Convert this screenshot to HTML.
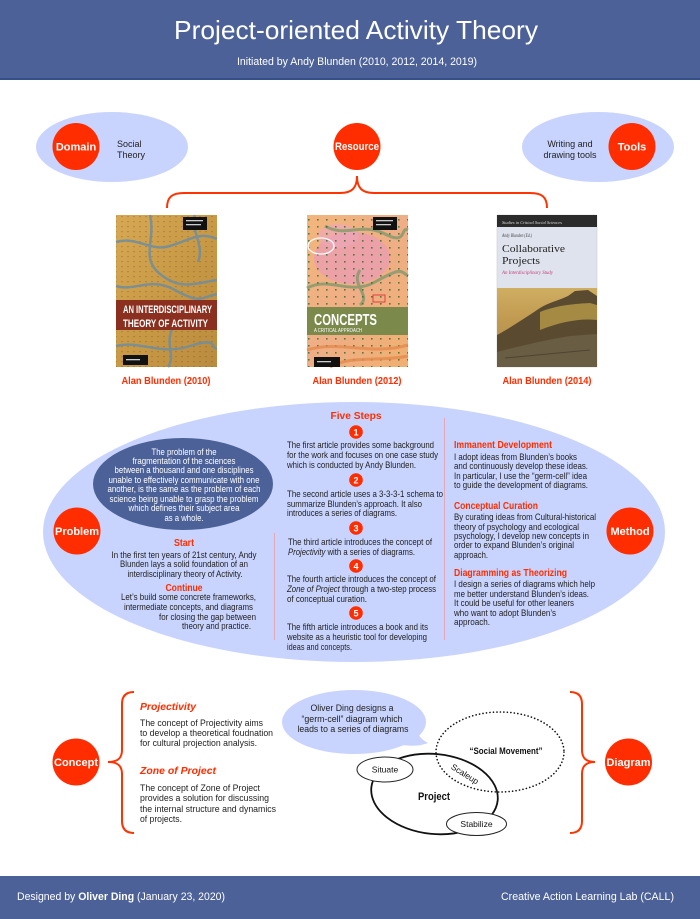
<!DOCTYPE html>
<html><head><meta charset="utf-8"><style>
html,body{margin:0;padding:0;background:#fff;width:700px;height:919px;overflow:hidden}
svg{display:block}
text{font-family:"Liberation Sans",Arial,sans-serif}
.b{fill:#1e1e1e;font-size:9px}
.w{fill:#fff;font-size:9px}
.rh{fill:#ff2d00;font-size:10.5px;font-weight:bold}
.cl{fill:#fff;font-size:11px;font-weight:bold}
</style></head><body>
<svg width="700" height="919" viewBox="0 0 700 919" xmlns="http://www.w3.org/2000/svg">
<defs>
<linearGradient id="g1" x1="0" y1="0" x2="1" y2="1"><stop offset="0" stop-color="#d7a955"/><stop offset=".5" stop-color="#c99a45"/><stop offset="1" stop-color="#b98b3e"/></linearGradient>
<linearGradient id="g2" x1="0" y1="0" x2="1" y2="1"><stop offset="0" stop-color="#f2b67c"/><stop offset=".5" stop-color="#efae86"/><stop offset="1" stop-color="#f0b070"/></linearGradient>
<linearGradient id="g3" x1="0" y1="0" x2="0" y2="1"><stop offset="0" stop-color="#cfae62"/><stop offset=".4" stop-color="#c09a50"/><stop offset="1" stop-color="#a88a50"/></linearGradient>
<pattern id="t1" width="6" height="5" patternUnits="userSpaceOnUse"><rect x="1" y="1" width="2" height="1.2" fill="#7a4e22" opacity=".3"/></pattern>
<pattern id="t2" width="9" height="7" patternUnits="userSpaceOnUse"><rect x="2" y="2" width="1.6" height="1.6" fill="#2f6a2a" opacity=".8"/></pattern>
</defs>

<!-- header -->
<rect x="0" y="0" width="700" height="80" fill="#4b6198"/>
<rect x="0" y="78" width="700" height="2" fill="#34508c"/>
<text x="356" y="39" text-anchor="middle" fill="#fff" font-size="26" textLength="364" lengthAdjust="spacingAndGlyphs">Project-oriented Activity Theory</text>
<text x="357" y="65" text-anchor="middle" fill="#fff" font-size="11" textLength="240" lengthAdjust="spacingAndGlyphs">Initiated by Andy Blunden (2010, 2012, 2014, 2019)</text>

<!-- domain / resource / tools -->
<ellipse cx="112" cy="147" rx="76" ry="35" fill="#c8d4fd"/>
<circle cx="76" cy="146.5" r="23.5" fill="#ff2d00"/>
<text x="76" y="150.5" text-anchor="middle" class="cl">Domain</text>
<text x="117" y="147" class="b" font-size="9.5">Social</text>
<text x="117" y="158" class="b" font-size="9.5">Theory</text>

<circle cx="357" cy="146.5" r="23.5" fill="#ff2d00"/>
<text x="357" y="150" text-anchor="middle" class="cl" font-size="10" textLength="44" lengthAdjust="spacingAndGlyphs">Resource</text>

<ellipse cx="598" cy="147" rx="76" ry="35" fill="#c8d4fd"/>
<circle cx="632" cy="146.5" r="23.5" fill="#ff2d00"/>
<text x="632" y="150.5" text-anchor="middle" class="cl">Tools</text>
<text x="570" y="147" text-anchor="middle" class="b" font-size="9.5">Writing and</text>
<text x="570" y="158" text-anchor="middle" class="b" font-size="9.5">drawing tools</text>

<path d="M167,208 C167,197 172,193 184,193 L340,193 C352,193 357,188 357,176 C357,188 362,193 374,193 L530,193 C542,193 547,197 547,208" fill="none" stroke="#ff3300" stroke-width="2"/>

<!-- book 1 -->
<rect x="116" y="215" width="101" height="152" fill="url(#g1)"/>
<rect x="116" y="215" width="101" height="152" fill="url(#t1)"/>
<g fill="none" stroke="#6f8ea0" stroke-width="2.5" opacity=".85">
<path d="M116,242 C138,236 150,252 170,246 S200,231 217,239"/>
<path d="M150,215 C156,240 140,258 160,274 S192,284 217,280"/>
<path d="M116,286 C135,292 150,276 175,290 S200,298 217,294"/>
<path d="M116,346 C140,340 160,356 190,346 S210,350 217,348"/>
<path d="M172,330 C165,345 176,355 168,367"/>
<path d="M195,215 C190,230 205,245 198,262"/>
</g>
<rect x="116" y="300" width="101" height="30" fill="#8b2f1f"/>
<text x="123" y="313" fill="#fff" font-size="11" font-weight="bold" textLength="89" lengthAdjust="spacingAndGlyphs">AN INTERDISCIPLINARY</text>
<text x="123" y="327" fill="#fff" font-size="11" font-weight="bold" textLength="85" lengthAdjust="spacingAndGlyphs">THEORY OF ACTIVITY</text>
<rect x="183" y="217" width="24" height="13" fill="#111"/>
<rect x="186" y="220" width="17" height="1.3" fill="#ccc"/><rect x="186" y="224" width="15" height="1.3" fill="#ccc"/>
<rect x="123" y="355" width="25" height="10" fill="#111"/>
<rect x="126" y="359" width="14" height="1.3" fill="#ccc"/>

<!-- book 2 -->
<rect x="307" y="215" width="101" height="152" fill="url(#g2)"/>
<ellipse cx="352" cy="258" rx="38" ry="26" fill="#eb9fae" opacity=".85"/>
<ellipse cx="338" cy="236" rx="20" ry="12" fill="#f0a6b8" opacity=".7"/>
<g fill="none" stroke="#8d9b70" stroke-width="3" opacity=".9">
<path d="M307,288 C330,276 350,296 375,282 S400,270 408,276"/>
<path d="M325,226 C345,238 362,222 385,234 S400,226 408,230"/>
<path d="M360,270 C350,285 372,295 360,305"/>
</g>
<rect x="307" y="215" width="101" height="152" fill="url(#t2)"/>
<ellipse cx="321" cy="246" rx="13" ry="8" fill="none" stroke="#fff" stroke-width="1.3"/>
<rect x="373" y="295" width="12" height="7" fill="none" stroke="#e04040" stroke-width="1"/>
<g fill="none" stroke="#e58a4e" stroke-width="3" opacity=".8">
<path d="M307,350 C340,340 370,356 408,345"/>
<path d="M330,367 C350,355 380,362 408,356"/>
</g>
<rect x="307" y="307" width="101" height="28" fill="#7b8a4b"/>
<text x="314" y="325" fill="#fff" font-size="16" font-weight="bold" textLength="63" lengthAdjust="spacingAndGlyphs">CONCEPTS</text>
<text x="314" y="332" fill="#fff" font-size="5" textLength="48" lengthAdjust="spacingAndGlyphs">A CRITICAL APPROACH</text>
<rect x="373" y="217" width="24" height="13" fill="#111"/>
<rect x="376" y="220" width="17" height="1.3" fill="#ccc"/><rect x="376" y="224" width="15" height="1.3" fill="#ccc"/>
<rect x="314" y="357" width="26" height="10" fill="#111"/>
<rect x="317" y="361" width="14" height="1.3" fill="#ccc"/>

<!-- book 3 -->
<rect x="497" y="215" width="100" height="152" fill="#dfe3ee" stroke="#cfcfcf" stroke-width=".6"/>
<rect x="497" y="215" width="100" height="12" fill="#2b2b2b"/>
<text x="502" y="224" fill="#ddd" font-size="4" font-style="italic" style="font-family:'Liberation Serif',serif" textLength="60" lengthAdjust="spacingAndGlyphs">Studies in Critical Social Sciences</text>
<text x="502" y="237" fill="#444" font-size="5" font-style="italic" style="font-family:'Liberation Serif',serif" textLength="30" lengthAdjust="spacingAndGlyphs">Andy Blunden (Ed.)</text>
<text x="502" y="252" fill="#222" font-size="11" style="font-family:'Liberation Serif',serif" textLength="63" lengthAdjust="spacingAndGlyphs">Collaborative</text>
<text x="502" y="264" fill="#222" font-size="11" style="font-family:'Liberation Serif',serif" textLength="38" lengthAdjust="spacingAndGlyphs">Projects</text>
<text x="502" y="274" fill="#c0407a" font-size="5" font-style="italic" style="font-family:'Liberation Serif',serif" textLength="51" lengthAdjust="spacingAndGlyphs">An Interdisciplinary Study</text>
<rect x="497" y="288" width="100" height="79" fill="url(#g3)"/>
<path d="M497,335 C510,328 525,318 540,308 C550,302 560,300 568,296 L575,291 L588,290 L597,296 L597,367 L497,367 Z" fill="#5a4a30"/>
<path d="M540,312 C555,306 570,304 590,303 L597,305 L597,320 C580,318 560,322 540,330 Z" fill="#b89a48" opacity=".8"/>
<path d="M497,352 C520,346 545,340 570,336 L597,334 L597,367 L497,367 Z" fill="#6c6048" opacity=".85"/>
<path d="M505,358 L590,350" stroke="#3e3424" stroke-width="1" opacity=".6"/>

<text x="166" y="384" text-anchor="middle" class="rh" font-size="10" textLength="89" lengthAdjust="spacingAndGlyphs">Alan Blunden (2010)</text>
<text x="357" y="384" text-anchor="middle" class="rh" font-size="10" textLength="89" lengthAdjust="spacingAndGlyphs">Alan Blunden (2012)</text>
<text x="547" y="384" text-anchor="middle" class="rh" font-size="10" textLength="89" lengthAdjust="spacingAndGlyphs">Alan Blunden (2014)</text>

<!-- big ellipse -->
<ellipse cx="354" cy="532" rx="311" ry="130" fill="#c8d4fd"/>
<ellipse cx="183" cy="484" rx="90" ry="46" fill="#4b6198"/>
<g class="w" text-anchor="middle">
<text x="184" y="455" class="w" textLength="65" lengthAdjust="spacingAndGlyphs">The problem of the</text>
<text x="184" y="464" class="w" textLength="103" lengthAdjust="spacingAndGlyphs">fragmentation of the sciences</text>
<text x="184" y="473" class="w" textLength="139" lengthAdjust="spacingAndGlyphs">between a thousand and one disciplines</text>
<text x="184" y="483" class="w" textLength="151" lengthAdjust="spacingAndGlyphs">unable to effectively communicate with one</text>
<text x="184" y="492" class="w" textLength="153" lengthAdjust="spacingAndGlyphs">another, is the same as the problem of each</text>
<text x="184" y="502" class="w" textLength="149" lengthAdjust="spacingAndGlyphs">science being unable to grasp the problem</text>
<text x="184" y="511" class="w" textLength="111" lengthAdjust="spacingAndGlyphs">which defines their subject area</text>
<text x="184" y="521" class="w" textLength="39" lengthAdjust="spacingAndGlyphs">as a whole.</text>
</g>

<circle cx="77" cy="531" r="23.5" fill="#ff2d00"/>
<text x="77" y="535" text-anchor="middle" class="cl">Problem</text>

<g text-anchor="middle">
<text x="184" y="546" class="rh" textLength="20" lengthAdjust="spacingAndGlyphs">Start</text>
<text x="184" y="558" class="b" textLength="145" lengthAdjust="spacingAndGlyphs">In the first ten years of 21st century, Andy</text>
<text x="184" y="567" class="b" textLength="128" lengthAdjust="spacingAndGlyphs">Blunden lays a solid foundation of an</text>
<text x="185" y="577" class="b" textLength="115" lengthAdjust="spacingAndGlyphs">interdisciplinary theory of Activity.</text>
<text x="184" y="591" class="rh" textLength="37" lengthAdjust="spacingAndGlyphs">Continue</text>
</g>
<g text-anchor="end">
<text x="256" y="600" class="b" textLength="135" lengthAdjust="spacingAndGlyphs">Let’s build some concrete frameworks,</text>
<text x="253" y="610" class="b" textLength="129" lengthAdjust="spacingAndGlyphs">intermediate concepts, and diagrams</text>
<text x="256" y="620" class="b" textLength="97" lengthAdjust="spacingAndGlyphs">for closing the gap between</text>
<text x="251" y="629" class="b" textLength="69" lengthAdjust="spacingAndGlyphs">theory and practice.</text>
</g>

<line x1="274.5" y1="533" x2="274.5" y2="640" stroke="#e3a8b8" stroke-width="1"/>
<line x1="444.5" y1="418" x2="444.5" y2="640" stroke="#e3a8b8" stroke-width="1"/>

<!-- five steps -->
<text x="356" y="419" text-anchor="middle" class="rh" font-size="11.5" textLength="51" lengthAdjust="spacingAndGlyphs">Five Steps</text>
<g fill="#ff2d00">
<circle cx="356" cy="432" r="6.8"/><circle cx="356" cy="480" r="6.8"/><circle cx="356" cy="528" r="6.8"/><circle cx="356" cy="566" r="6.8"/><circle cx="356" cy="613" r="6.8"/>
</g>
<g fill="#fff" font-size="9" font-weight="bold" text-anchor="middle">
<text x="356" y="435.3">1</text><text x="356" y="483.3">2</text><text x="356" y="531.3">3</text><text x="356" y="569.3">4</text><text x="356" y="616.3">5</text>
</g>
<text x="287" y="448" class="b" textLength="147" lengthAdjust="spacingAndGlyphs">The first article provides some background</text>
<text x="287" y="458" class="b" textLength="151" lengthAdjust="spacingAndGlyphs">for the work and focuses on one case study</text>
<text x="287" y="468" class="b" textLength="129" lengthAdjust="spacingAndGlyphs">which is conducted by Andy Blunden.</text>
<text x="287" y="497" class="b" textLength="156" lengthAdjust="spacingAndGlyphs">The second article uses a 3-3-3-1 schema to</text>
<text x="287" y="507" class="b" textLength="135" lengthAdjust="spacingAndGlyphs">summarize Blunden’s approach. It also</text>
<text x="287" y="516" class="b" textLength="110" lengthAdjust="spacingAndGlyphs">introduces a series of diagrams.</text>
<text x="288" y="545" class="b" textLength="144" lengthAdjust="spacingAndGlyphs">The third article introduces the concept of</text>
<text x="288" y="555" class="b" textLength="127" lengthAdjust="spacingAndGlyphs"><tspan font-style="italic">Projectivity</tspan> with a series of diagrams.</text>
<text x="287" y="582" class="b" textLength="149" lengthAdjust="spacingAndGlyphs">The fourth article introduces the concept of</text>
<text x="287" y="592" class="b" textLength="149" lengthAdjust="spacingAndGlyphs"><tspan font-style="italic">Zone of Project</tspan> through a two-step process</text>
<text x="287" y="602" class="b" textLength="80" lengthAdjust="spacingAndGlyphs">of conceptual curation.</text>
<text x="287" y="630" class="b" textLength="141" lengthAdjust="spacingAndGlyphs">The fifth article introduces a book and its</text>
<text x="287" y="640" class="b" textLength="140" lengthAdjust="spacingAndGlyphs">website as a heuristic tool for developing</text>
<text x="287" y="650" class="b" textLength="65" lengthAdjust="spacingAndGlyphs">ideas and concepts.</text>

<!-- right column -->
<text x="454" y="448" class="rh" textLength="98" lengthAdjust="spacingAndGlyphs">Immanent Development</text>
<text x="454" y="460" class="b" textLength="123" lengthAdjust="spacingAndGlyphs">I adopt ideas from Blunden’s books</text>
<text x="454" y="469" class="b" textLength="134" lengthAdjust="spacingAndGlyphs">and continuously develop these ideas.</text>
<text x="454" y="479" class="b" textLength="133" lengthAdjust="spacingAndGlyphs">In particular, I use the “germ-cell” idea</text>
<text x="454" y="488" class="b" textLength="134" lengthAdjust="spacingAndGlyphs">to guide the development of diagrams.</text>
<text x="454" y="509" class="rh" textLength="84" lengthAdjust="spacingAndGlyphs">Conceptual Curation</text>
<text x="454" y="520" class="b" textLength="142" lengthAdjust="spacingAndGlyphs">By curating ideas from Cultural-historical</text>
<text x="454" y="530" class="b" textLength="125" lengthAdjust="spacingAndGlyphs">theory of psychology and ecological</text>
<text x="454" y="539" class="b" textLength="135" lengthAdjust="spacingAndGlyphs">psychology, I develop new concepts in</text>
<text x="454" y="548" class="b" textLength="120" lengthAdjust="spacingAndGlyphs">order to expand Blunden’s original</text>
<text x="454" y="558" class="b" textLength="34" lengthAdjust="spacingAndGlyphs">approach.</text>
<text x="454" y="576" class="rh" textLength="113" lengthAdjust="spacingAndGlyphs">Diagramming as Theorizing</text>
<text x="454" y="587" class="b" textLength="141" lengthAdjust="spacingAndGlyphs">I design a series of diagrams which help</text>
<text x="454" y="597" class="b" textLength="135" lengthAdjust="spacingAndGlyphs">me better understand Blunden’s ideas.</text>
<text x="454" y="606" class="b" textLength="120" lengthAdjust="spacingAndGlyphs">It could be useful for other leaners</text>
<text x="454" y="616" class="b" textLength="102" lengthAdjust="spacingAndGlyphs">who want to adopt Blunden’s</text>
<text x="454" y="625" class="b" textLength="36" lengthAdjust="spacingAndGlyphs">approach.</text>

<circle cx="630" cy="531" r="23.5" fill="#ff2d00"/>
<text x="630" y="535" text-anchor="middle" class="cl">Method</text>

<!-- bottom: concept -->
<circle cx="76" cy="762" r="23.5" fill="#ff2d00"/>
<text x="76" y="766" text-anchor="middle" class="cl">Concept</text>
<path d="M134,692 C126,692 122,696 122,704 L122,750 C122,758 118,762 108,762 C118,762 122,766 122,774 L122,821 C122,829 126,833 134,833" fill="none" stroke="#ff3300" stroke-width="2"/>
<text x="140" y="710" class="rh" font-size="11.5" font-style="italic" textLength="56" lengthAdjust="spacingAndGlyphs">Projectivity</text>
<text x="140" y="726" class="b" font-size="9.5" textLength="123" lengthAdjust="spacingAndGlyphs">The concept of Projectivity aims</text>
<text x="140" y="736" class="b" font-size="9.5" textLength="133" lengthAdjust="spacingAndGlyphs">to develop a theoretical foudnation</text>
<text x="140" y="746" class="b" font-size="9.5" textLength="117" lengthAdjust="spacingAndGlyphs">for cultural projection analysis.</text>
<text x="140" y="774" class="rh" font-size="11.5" font-style="italic" textLength="76" lengthAdjust="spacingAndGlyphs">Zone of Project</text>
<text x="140" y="791" class="b" font-size="9.5" textLength="120" lengthAdjust="spacingAndGlyphs">The concept of Zone of Project</text>
<text x="140" y="801" class="b" font-size="9.5" textLength="129" lengthAdjust="spacingAndGlyphs">provides a solution for discussing</text>
<text x="140" y="812" class="b" font-size="9.5" textLength="136" lengthAdjust="spacingAndGlyphs">the internal structure and dynamics</text>
<text x="140" y="822" class="b" font-size="9.5" textLength="42" lengthAdjust="spacingAndGlyphs">of projects.</text>

<!-- speech bubble -->
<ellipse cx="354" cy="722" rx="72" ry="32" fill="#c8d4fd"/>
<path d="M398,744 Q415,748 428,743 Q418,738 416,728 Z" fill="#c8d4fd"/>
<g text-anchor="middle">
<text x="352" y="711" class="b" font-size="10" textLength="83" lengthAdjust="spacingAndGlyphs">Oliver Ding designs a</text>
<text x="352" y="722" class="b" font-size="10" textLength="101" lengthAdjust="spacingAndGlyphs">“germ-cell” diagram which</text>
<text x="353" y="732" class="b" font-size="10" textLength="111" lengthAdjust="spacingAndGlyphs">leads to a series of diagrams</text>
</g>

<!-- diagram -->
<ellipse cx="500" cy="752" rx="64" ry="40" fill="none" stroke="#111" stroke-width="1.6" stroke-dasharray="0.1 3.4" stroke-linecap="round"/>
<text x="506" y="754" text-anchor="middle" fill="#111" font-size="9" font-weight="bold" textLength="73" lengthAdjust="spacingAndGlyphs">“Social Movement”</text>
<ellipse cx="434.5" cy="794" rx="63.5" ry="40" fill="none" stroke="#111" stroke-width="1.8" transform="rotate(6 434.5 794)"/>
<text x="434" y="800" text-anchor="middle" fill="#111" font-size="11" font-weight="bold" textLength="32" lengthAdjust="spacingAndGlyphs">Project</text>
<ellipse cx="385" cy="769.5" rx="28" ry="12.5" fill="#fff" stroke="#222" stroke-width="1"/>
<text x="385" y="772.5" text-anchor="middle" fill="#111" font-size="8.5">Situate</text>
<ellipse cx="476.5" cy="824" rx="30" ry="11.5" fill="#fff" stroke="#222" stroke-width="1"/>
<text x="476.5" y="827" text-anchor="middle" fill="#111" font-size="8.5">Stabilize</text>
<text x="465" y="777" text-anchor="middle" fill="#111" font-size="8.5" transform="rotate(32 465 774)">Scaleup</text>

<path d="M570,692 C578,692 582,696 582,704 L582,750 C582,758 586,762 595,762 C586,762 582,766 582,774 L582,821 C582,829 578,833 570,833" fill="none" stroke="#ff3300" stroke-width="2"/>
<circle cx="628.5" cy="762" r="23.5" fill="#ff2d00"/>
<text x="628.5" y="766" text-anchor="middle" class="cl">Diagram</text>

<!-- footer -->
<rect x="0" y="876" width="700" height="43" fill="#4b6198"/>
<text x="17" y="900" fill="#fff" font-size="11" textLength="208" lengthAdjust="spacingAndGlyphs">Designed by <tspan font-weight="bold">Oliver Ding</tspan> (January 23, 2020)</text>
<text x="674" y="900" text-anchor="end" fill="#fff" font-size="11" textLength="173" lengthAdjust="spacingAndGlyphs">Creative Action Learning Lab (CALL)</text>
</svg>
</body></html>
